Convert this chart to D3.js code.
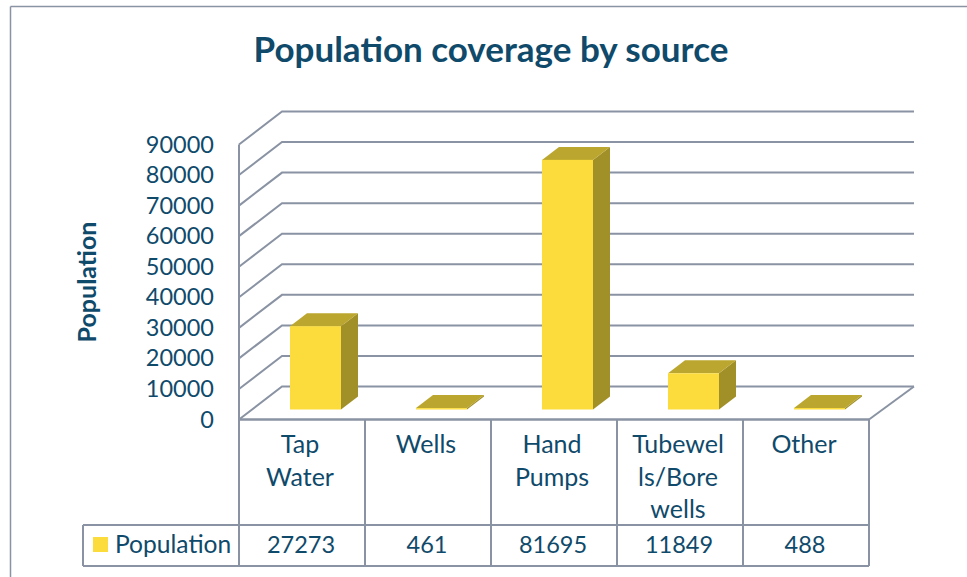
<!DOCTYPE html>
<html><head><meta charset="utf-8">
<script src="https://cdn.jsdelivr.net/npm/d3@7"></script>
<style>html,body{margin:0;padding:0;background:#fff}svg{display:block}text{font-family:Lato,sans-serif;fill:#0f4a6b}</style>
</head><body><svg id="c" width="967" height="577"></svg>
<script>
const categories = ["Tap Water","Wells","Hand Pumps","Tubewells/Bore wells","Other"];
const categoryLines = [["Tap","Water"],["Wells"],["Hand","Pumps"],["Tubewel","ls/Bore","wells"],["Other"]];
const values = [27273,461,81695,11849,488];
const tickValues = [0,10000,20000,30000,40000,50000,60000,70000,80000,90000];
const seriesName = "Population";
const titleText = "Population coverage by source";

const svg = d3.select("#c");
const gridC="#8a93a3", faceC="#fcdc3c", sideC="#a18f27", topC="#bba72f";
const x = d3.scaleBand().domain(categories).range([239,869]);
const y = d3.scaleLinear().domain([0,90000]).range([419.5,144.5]);
const depthY=-33, backLeft=282, backRight=914, barDepth=[17,-13], barShift=[13.5,-10];
const barW=51;

const line=(a,b,c,d,w=2)=>svg.append("line").attr("x1",a).attr("y1",b).attr("x2",c).attr("y2",d).attr("stroke",gridC).attr("stroke-width",w);

// chart frame
line(10.5,6.5,967,6.5,1.5); line(10.5,6.5,10.5,577,1.5);

// walls
tickValues.forEach(t=>{
  const yy=y(t);
  svg.append("polyline").attr("fill","none").attr("stroke",gridC).attr("stroke-width",2)
    .attr("points",[[239,yy],[backLeft,yy+depthY],[backRight,yy+depthY]].join(" "));
});
line(239,y(90000),239,566,2);
line(869,y(0),backRight,y(0)+depthY,2);

// table
line(239,y(0),869,y(0),2.5);
line(83,525,869,525,2);
line(83,566,869,566,2);
line(83,525,83,566,2);
[...categories.map(c=>x(c)),869].forEach(v=>line(v,y(0),v,566,2));

// bars
const g=svg.append("g");
categories.forEach((c,i)=>{
  const v=values[i];
  const x0=x(c)+x.bandwidth()/2-barW/2+barShift[0];
  const y0=y(0)+barShift[1], y1=y(v)+barShift[1];
  const [dx,dy]=barDepth;
  g.append("polygon").attr("fill",sideC).attr("points",[[x0+barW,y0],[x0+barW+dx,y0+dy],[x0+barW+dx,y1+dy],[x0+barW,y1]].join(" "));
  g.append("polygon").attr("fill",topC).attr("points",[[x0,y1],[x0+dx,y1+dy],[x0+barW+dx,y1+dy],[x0+barW,y1]].join(" "));
  g.append("rect").attr("fill",faceC).attr("x",x0).attr("y",y1).attr("width",barW).attr("height",y0-y1);
});

// tick labels
svg.selectAll(".tick").data(tickValues).join("text").attr("class","tick")
  .attr("x",214).attr("y",t=>y(t)+8).attr("text-anchor","end").attr("font-size",23.5).text(t=>t);

// category labels
categories.forEach((c,i)=>{
  categoryLines[i].forEach((l,j)=>{
    svg.append("text").attr("x",x(c)+x.bandwidth()/2-2).attr("y",453+j*32.5)
      .attr("text-anchor","middle").attr("font-size",25).text(l);
  });
  svg.append("text").attr("x",x(c)+x.bandwidth()/2-1).attr("y",553)
    .attr("text-anchor","middle").attr("font-size",23.5).text(values[i]);
});

// legend
svg.append("rect").attr("x",93).attr("y",537).attr("width",15).attr("height",15).attr("fill",faceC);
svg.append("text").attr("x",115).attr("y",553).attr("font-size",24.6).text(seriesName);

// titles
svg.append("text").attr("x",491).attr("y",62).attr("text-anchor","middle")
  .attr("font-size",35).attr("font-weight",700).text(titleText);
svg.append("text").attr("transform","translate(96,282) rotate(-90)").attr("text-anchor","middle")
  .attr("font-size",25).attr("font-weight",700).text(seriesName);
</script></body></html>
